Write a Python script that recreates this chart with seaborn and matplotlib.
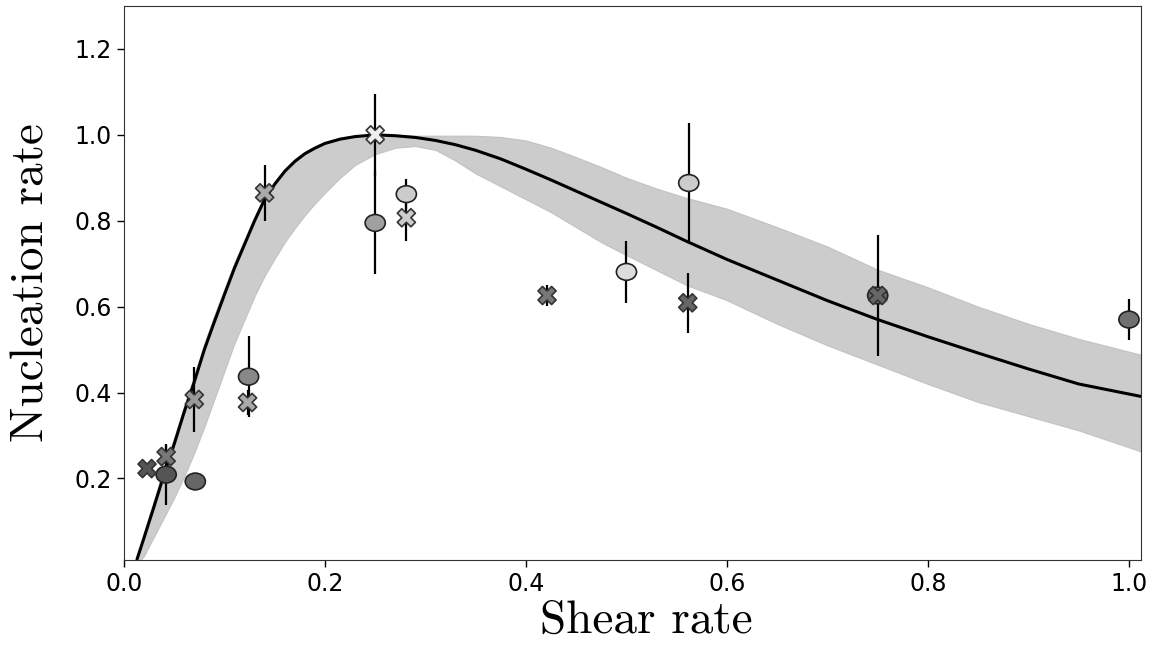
import numpy as np
import pandas as pd
import matplotlib
matplotlib.use("Agg")
import matplotlib.pyplot as plt
import seaborn as sns
from matplotlib.path import Path
from matplotlib.transforms import Affine2D

# fitted curve and its uncertainty band
fit_x = [0.013, 0.02, 0.03, 0.04, 0.05, 0.06, 0.07, 0.08, 0.09, 0.10, 0.11, 0.12,
         0.13, 0.14, 0.15, 0.16, 0.17, 0.18, 0.19, 0.20, 0.215, 0.23, 0.25, 0.27,
         0.29, 0.31, 0.33, 0.35, 0.375, 0.40, 0.425, 0.45, 0.475, 0.50, 0.53, 0.56,
         0.60, 0.65, 0.70, 0.75, 0.80, 0.85, 0.90, 0.95, 1.012]
fit_y = [0.012, 0.062, 0.135, 0.21, 0.28, 0.355, 0.425, 0.50, 0.565, 0.628, 0.69, 0.745,
         0.80, 0.85, 0.885, 0.915, 0.938, 0.956, 0.969, 0.98, 0.99, 0.996, 1.0, 0.998,
         0.994, 0.987, 0.977, 0.964, 0.944, 0.92, 0.895, 0.869, 0.843, 0.817, 0.785, 0.752,
         0.71, 0.662, 0.614, 0.570, 0.530, 0.492, 0.455, 0.420, 0.391]
band_hi = [0.012, 0.075, 0.15, 0.225, 0.295, 0.37, 0.44, 0.515, 0.58, 0.642, 0.703, 0.757,
           0.81, 0.858, 0.892, 0.921, 0.944, 0.961, 0.974, 0.984, 0.993, 0.998, 1.0, 0.999,
           0.998, 0.998, 0.998, 0.998, 0.995, 0.987, 0.97, 0.948, 0.925, 0.90, 0.875, 0.853,
           0.828, 0.785, 0.74, 0.686, 0.645, 0.60, 0.56, 0.525, 0.488]
band_lo = [0.0, 0.02, 0.065, 0.11, 0.155, 0.205, 0.26, 0.32, 0.385, 0.45, 0.515, 0.57,
           0.625, 0.672, 0.712, 0.75, 0.783, 0.813, 0.84, 0.865, 0.90, 0.93, 0.955, 0.97,
           0.974, 0.965, 0.94, 0.91, 0.88, 0.85, 0.82, 0.785, 0.75, 0.72, 0.685, 0.65,
           0.615, 0.56, 0.51, 0.465, 0.42, 0.378, 0.345, 0.312, 0.263]

# cross-shaped measurements
cross_x = [0.023, 0.042, 0.070, 0.123, 0.140, 0.25, 0.281, 0.421, 0.561, 0.75]
cross_y = [0.223, 0.251, 0.384, 0.377, 0.865, 1.0, 0.807, 0.626, 0.609, 0.626]
cross_err = [0.01, 0.03, 0.075, 0.03, 0.065, 0.095, 0.055, 0.025, 0.07, 0.0]
cross_fill = ["#555555", "#777777", "#999999", "#aaaaaa", "#aaaaaa", "#eeeeee",
              "#cccccc", "#777777", "#666666", "#666666"]

# circle measurements
circ_x = [0.042, 0.071, 0.124, 0.25, 0.281, 0.50, 0.562, 0.75, 1.0]
circ_y = [0.209, 0.193, 0.437, 0.795, 0.862, 0.681, 0.888, 0.626, 0.57]
circ_err = [0.07, 0.0, 0.095, 0.12, 0.035, 0.072, 0.14, 0.14, 0.047]
circ_fill = ["#555555", "#666666", "#888888", "#a0a0a0", "#cccccc", "#dddddd",
             "#cccccc", "#666666", "#707070"]

sns.set_style("ticks")
plt.rcParams["font.family"] = ["DejaVu Sans"]
plt.rcParams["text.color"] = "black"

fig = plt.figure(figsize=(11.53, 6.46), dpi=100)
ax = fig.add_axes([0.1075, 0.133, 0.8821, 0.8577])

fit = pd.DataFrame({"x": fit_x, "y": fit_y, "lo": band_lo, "hi": band_hi})
ax.fill_between(fit["x"], fit["lo"], fit["hi"], color="#cccccc",
                edgecolor="#c2c2c2", linewidth=0.8, zorder=1)
sns.lineplot(data=fit, x="x", y="y", color="black", linewidth=2.2, ax=ax, zorder=2)

circ = pd.DataFrame({"x": circ_x, "y": circ_y, "err": circ_err, "fill": circ_fill})
cross = pd.DataFrame({"x": cross_x, "y": cross_y, "err": cross_err, "fill": cross_fill})

for df in (circ, cross):
    ax.errorbar(df["x"], df["y"], yerr=df["err"], fmt="none", ecolor="black",
                elinewidth=1.6, capsize=0, zorder=3)

# the circles in the figure are slightly wider than tall
ellipse = Path.unit_circle().transformed(Affine2D().scale(1.2, 1.0))
sns.scatterplot(data=circ, x="x", y="y", hue="fill",
                palette={c: c for c in circ_fill}, marker=ellipse, s=210,
                edgecolor="#222222", linewidth=1.2, legend=False, ax=ax, zorder=4)
sns.scatterplot(data=cross, x="x", y="y", hue="fill",
                palette={c: c for c in cross_fill}, marker="X", s=170,
                edgecolor="#333333", linewidth=1.2, legend=False, ax=ax, zorder=5)

ax.set_xlim(0.0, 1.012)
ax.set_ylim(0.01, 1.3)
ax.set_xticks([0.0, 0.2, 0.4, 0.6, 0.8, 1.0])
ax.set_yticks([0.2, 0.4, 0.6, 0.8, 1.0, 1.2])
ax.tick_params(labelsize=17, length=5, width=1, colors="black")
for sp in ax.spines.values():
    sp.set_visible(True)
    sp.set_color("#333333")

ax.set_xlabel("Shear rate", fontsize=34, fontfamily="cmr10", labelpad=3, x=0.514,
              color="black")
ax.set_ylabel("Nucleation rate", fontsize=34, fontfamily="cmr10", labelpad=16,
              color="black")

fig.savefig("out.png", dpi=100)
